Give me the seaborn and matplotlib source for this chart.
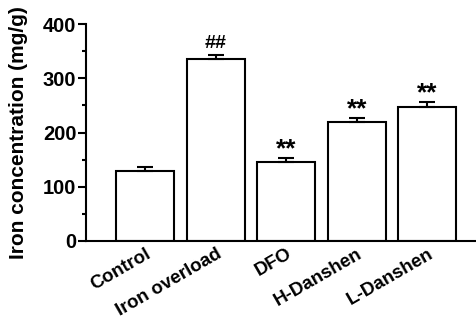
import matplotlib
matplotlib.use("Agg")
import matplotlib.pyplot as plt
import seaborn as sns
import pandas as pd
from matplotlib.ticker import MultipleLocator

groups = ["Control", "Iron overload", "DFO", "H-Danshen", "L-Danshen"]
values = [130, 335, 146, 219, 248]
errors = [7, 9, 7, 8, 9]
marks = ["", "##", "**", "**", "**"]

sns.set_theme(style="ticks")
plt.rcParams["font.family"] = ["Liberation Sans", "DejaVu Sans"]
plt.rcParams["font.weight"] = "bold"
for k in ["text.color", "axes.labelcolor", "xtick.color", "ytick.color", "axes.edgecolor"]:
    plt.rcParams[k] = "black"

df = pd.DataFrame({"group": groups, "value": values})

fig = plt.figure(figsize=(4.76, 3.22), dpi=100)
ax = fig.add_axes([0.181, 0.2516, 0.819, 0.6734])

sns.barplot(data=df, x="group", y="value", color="white", edgecolor="black",
            linewidth=1.5, width=0.82, ax=ax, errorbar=None)
ax.errorbar(range(len(groups)), values, yerr=[[0]*len(errors), errors], fmt="none",
            ecolor="black", elinewidth=1.5, capsize=6, capthick=1.5)
for i, (v, e, m) in enumerate(zip(values, errors, marks)):
    if m == "##":
        ax.text(i, v + e + 4, m, ha="center", va="bottom", fontsize=14, fontweight="bold")
    elif m:
        ax.text(i, v + e - 6, m, ha="center", va="bottom", fontsize=19, fontweight="bold")

ax.set_ylim(0, 400)
ax.set_xlim(-0.84, 4.69)
ax.yaxis.set_major_locator(MultipleLocator(100))
ax.yaxis.set_minor_locator(MultipleLocator(50))
ax.tick_params(axis="y", which="major", length=6, width=1.5, labelsize=14.5, pad=1)
ax.tick_params(axis="y", which="minor", length=3, width=1.5)
ax.tick_params(axis="x", length=0, labelsize=13.5, pad=3)
for lab in ax.get_yticklabels():
    lab.set_fontweight("bold")
ax.set_xticks(range(len(groups)))
ax.set_xticklabels(groups, rotation=30, ha="right", rotation_mode="anchor", fontweight="bold")
ax.set_xlabel("")
ax.set_ylabel("Iron concentration (mg/g)", fontsize=15, fontweight="bold", labelpad=11)
sns.despine(ax=ax)
for s in ["left", "bottom"]:
    ax.spines[s].set_linewidth(1.5)

fig.savefig("out.png", dpi=100)
